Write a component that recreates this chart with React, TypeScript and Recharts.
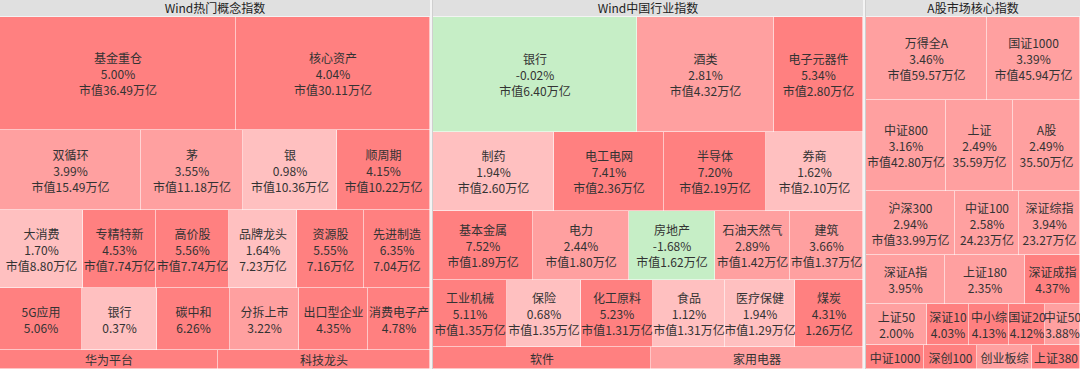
import React from "react";
import { Treemap } from "recharts";

// ---------- Data ----------
const groupTitles = ["Wind热门概念指数", "Wind中国行业指数", "A股市场核心指数"];

// Group 1: Wind热门概念指数
const conceptNames = [
  "基金重仓", "核心资产",
  "双循环", "茅", "银", "顺周期",
  "大消费", "专精特新", "高价股", "品牌龙头", "资源股", "先进制造",
  "5G应用", "银行", "碳中和", "分拆上市", "出口型企业", "消费电子产",
  "华为平台", "科技龙头",
];
const conceptPct = [
  5.0, 4.04,
  3.99, 3.55, 0.98, 4.15,
  1.7, 4.53, 5.56, 1.64, 5.55, 6.35,
  5.06, 0.37, 6.26, 3.22, 4.35, 4.78,
  4.6, 4.3,
];
const conceptCap: (number | null)[] = [
  36.49, 30.11,
  15.49, 11.18, 10.36, 10.22,
  8.8, 7.74, 7.74, 7.23, 7.16, 7.04,
  null, null, null, null, null, null,
  null, null,
];
const conceptSize = [
  36.49, 30.11,
  15.49, 11.18, 10.36, 10.22,
  8.8, 7.74, 7.74, 7.23, 7.16, 7.04,
  6.95, 6.36, 6.19, 5.85, 5.85, 5.34,
  5.69, 5.51,
];
const conceptRows = [2, 4, 6, 6, 2];

// Group 2: Wind中国行业指数
const industryNames = [
  "银行", "酒类", "电子元器件",
  "制药", "电工电网", "半导体", "券商",
  "基本金属", "电力", "房地产", "石油天然气", "建筑",
  "工业机械", "保险", "化工原料", "食品", "医疗保健", "煤炭",
  "软件", "家用电器",
];
const industryPct = [
  -0.02, 2.81, 5.34,
  1.94, 7.41, 7.2, 1.62,
  7.52, 2.44, -1.68, 2.89, 3.66,
  5.11, 0.68, 5.23, 1.12, 1.94, 4.31,
  4.6, 3.0,
];
const industryCap: (number | null)[] = [
  6.4, 4.32, 2.8,
  2.6, 2.36, 2.19, 2.1,
  1.89, 1.8, 1.62, 1.42, 1.37,
  1.35, 1.35, 1.31, 1.31, 1.29, 1.26,
  null, null,
];
const industrySize = [
  6.4, 4.32, 2.8,
  2.6, 2.36, 2.19, 2.1,
  1.89, 1.8, 1.62, 1.42, 1.37,
  1.35, 1.35, 1.31, 1.31, 1.29, 1.26,
  1.31, 1.27,
];
const industryRows = [3, 4, 5, 6, 2];

// Group 3: A股市场核心指数
const coreNames = [
  "万得全A", "国证1000",
  "中证800", "上证", "A股",
  "沪深300", "中证100", "深证综指",
  "深证A指", "上证180", "深证成指",
  "上证50", "深证10", "中小综", "国证20", "中证50",
  "中证1000", "深创100", "创业板综", "上证380",
];
const corePct = [
  3.46, 3.39,
  3.16, 2.49, 2.49,
  2.94, 2.58, 3.94,
  3.95, 2.35, 4.37,
  2.0, 4.03, 4.13, 4.12, 3.88,
  4.5, 4.3, 3.8, 4.2,
];
const coreCap: (number | null)[] = [
  59.57, 45.94,
  42.8, 35.59, 35.5,
  33.99, 24.23, 23.27,
  null, null, null,
  null, null, null, null, null,
  null, null, null, null,
];
const coreSize = [
  59.57, 45.94,
  42.8, 35.59, 35.5,
  33.99, 24.23, 23.27,
  22.8, 23.1, 16.1,
  14.7, 10.1, 9.6, 8.7, 8.7,
  8.3, 7.5, 7.8, 6.8,
];
const coreRows = [2, 3, 3, 3, 5, 4];

// ---------- Styling ----------
const FONT = '"Noto Sans CJK SC", "Noto Sans", sans-serif';
const CONTENT_H = 352;

function colorFor(p: number) {
  if (p < 0) return "#c6eec6";
  if (p < 2) return "#ffc0c0";
  if (p < 4) return "#ffa0a0";
  return "#ff8080";
}

function CellContent(props: any) {
  const { x, y, width, height, depth, name, pct, cap } = props;
  if (depth !== 1 || !(width > 0) || !(height > 0)) return null;
  const lines: string[] = [name];
  if (height >= 35) lines.push(`${pct.toFixed(2)}%`);
  if (height >= 55 && cap != null) lines.push(`${width >= 70 ? "市值" : ""}${cap.toFixed(2)}万亿`);
  return (
    <g>
      <rect x={x} y={y} width={width} height={height} fill={colorFor(pct)} />
      <line x1={x + width - 0.5} y1={y} x2={x + width - 0.5} y2={y + height} stroke="rgba(255,255,255,0.55)" strokeWidth={1} />
      <line x1={x} y1={y + height - 0.5} x2={x + width} y2={y + height - 0.5} stroke="rgba(255,255,255,0.55)" strokeWidth={1} />
      <svg x={x} y={y} width={width} height={height} overflow="hidden">
        {lines.map((t, i) => (
          <text
            key={i}
            x={width / 2}
            y={height / 2 + (i - (lines.length - 1) / 2) * 16}
            textAnchor="middle"
            dominantBaseline="central"
            fontSize={12}
            fill="#333"
            fontFamily={FONT}
            stroke="none"
          >
            {t}
          </text>
        ))}
      </svg>
    </g>
  );
}

type Group = {
  title: string;
  names: string[];
  pct: number[];
  cap: (number | null)[];
  size: number[];
  rows: number[];
  left: number;
  width: number;
};

const groups: Group[] = [
  { title: groupTitles[0], names: conceptNames, pct: conceptPct, cap: conceptCap, size: conceptSize, rows: conceptRows, left: 0, width: 430 },
  { title: groupTitles[1], names: industryNames, pct: industryPct, cap: industryCap, size: industrySize, rows: industryRows, left: 433, width: 430 },
  { title: groupTitles[2], names: coreNames, pct: corePct, cap: coreCap, size: coreSize, rows: coreRows, left: 866, width: 214 },
];

function GroupPanel({ g }: { g: Group }) {
  const items = g.names.map((n, i) => ({ name: n, pct: g.pct[i], cap: g.cap[i], size: g.size[i] }));
  const rowData: any[][] = [];
  let k = 0;
  for (const len of g.rows) {
    rowData.push(items.slice(k, k + len));
    k += len;
  }
  const sums = rowData.map((r) => r.reduce((s, d) => s + d.size, 0));
  const total = sums.reduce((a, b) => a + b, 0);
  const tops: number[] = [0];
  let cum = 0;
  sums.forEach((s) => {
    cum += s;
    tops.push(Math.round((CONTENT_H * cum) / total));
  });
  return (
    <div style={{ position: "absolute", left: g.left, top: 0, width: g.width, height: 369 }}>
      <div
        style={{
          height: 16,
          background: "#e0e0e0",
          color: "#222",
          fontSize: 12,
          lineHeight: "16px",
          textAlign: "center",
          fontFamily: FONT,
          borderBottom: "1px solid #f3f3f3",
        }}
      >
        {g.title}
      </div>
      {rowData.map((rd, i) => (
        <div key={i} style={{ width: g.width, height: tops[i + 1] - tops[i], overflow: "hidden" }}>
          <Treemap
            width={g.width}
            height={tops[i + 1] - tops[i]}
            data={rd}
            dataKey="size"
            nameKey="name"
            aspectRatio={1}
            isAnimationActive={false}
            content={<CellContent />}
          />
        </div>
      ))}
    </div>
  );
}

export default function App() {
  return (
    <div
      style={{
        position: "absolute",
        left: 0,
        top: 0,
        width: 1080,
        height: 369,
        background: "#f4f4f4",
        overflow: "hidden",
      }}
    >
      <div style={{ position: "absolute", left: 432, top: 0, width: 1, height: 369, background: "#cfcfcf" }} />
      <div style={{ position: "absolute", left: 865, top: 0, width: 1, height: 369, background: "#cfcfcf" }} />
      {groups.map((g, i) => (
        <GroupPanel key={i} g={g} />
      ))}
    </div>
  );
}
